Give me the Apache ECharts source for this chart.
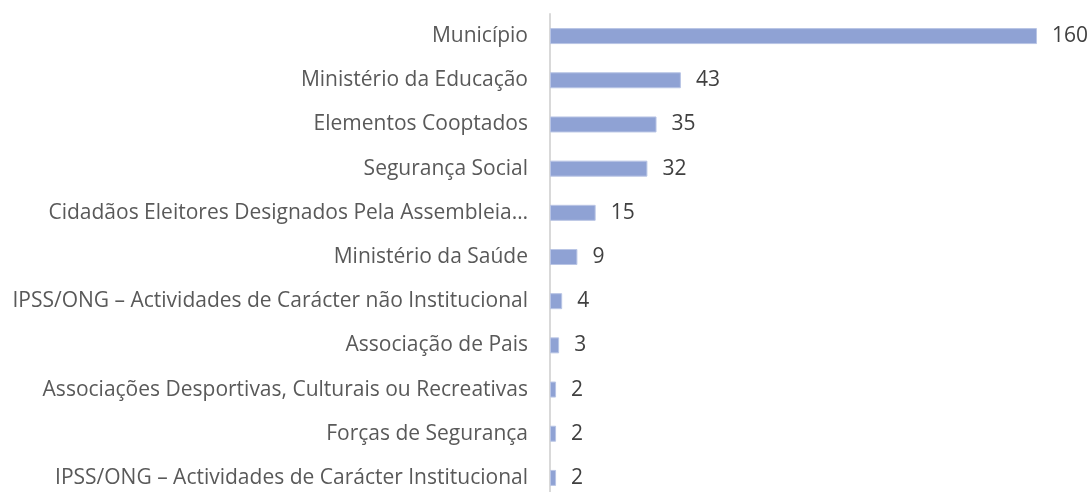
<!DOCTYPE html>
<html>
<head>
<meta charset="utf-8">
<script src="https://cdn.jsdelivr.net/npm/echarts@6/dist/echarts.min.js"></script>
<style>
  html, body { margin: 0; padding: 0; background: #fff; }
  #chart { width: 1091px; height: 492px; }
</style>
</head>
<body>
<div id="chart"></div>
<script>
// categorias de cima para baixo
const categories = [
  "Município",
  "Ministério da Educação",
  "Elementos Cooptados",
  "Segurança Social",
  "Cidadãos Eleitores Designados Pela Assembleia…",
  "Ministério da Saúde",
  "IPSS/ONG – Actividades de Carácter não Institucional",
  "Associação de Pais",
  "Associações Desportivas, Culturais ou Recreativas",
  "Forças de Segurança",
  "IPSS/ONG – Actividades de Carácter Institucional"
];
const values = [160, 43, 35, 32, 15, 9, 4, 3, 2, 2, 2];

const myChart = echarts.init(document.getElementById("chart"));

const config = {
  animation: false,
  textStyle: { fontFamily: "Open Sans" },
  grid: {
    left: 550,
    right: 54,
    top: 14,
    height: 486,
    containLabel: false,
    outerBoundsMode: "none"
  },
  xAxis: {
    type: "value",
    min: 0,
    max: 160,
    show: false
  },
  yAxis: {
    type: "category",
    inverse: true,
    data: categories,
    axisLine: { show: true, lineStyle: { color: "#d9d9d9", width: 2 } },
    axisTick: { show: false },
    axisLabel: {
      color: "#595959",
      fontSize: 21,
      margin: 22
    }
  },
  series: [
    {
      type: "bar",
      data: values,
      barWidth: 16,
      itemStyle: {
        color: "#8fa2d4",
        borderColor: "#b9c5e5",
        borderWidth: 1
      },
      label: {
        show: true,
        position: "right",
        distance: 15,
        color: "#404040",
        fontSize: 21
      }
    }
  ]
};

myChart.setOption(config);
</script>
</body>
</html>
